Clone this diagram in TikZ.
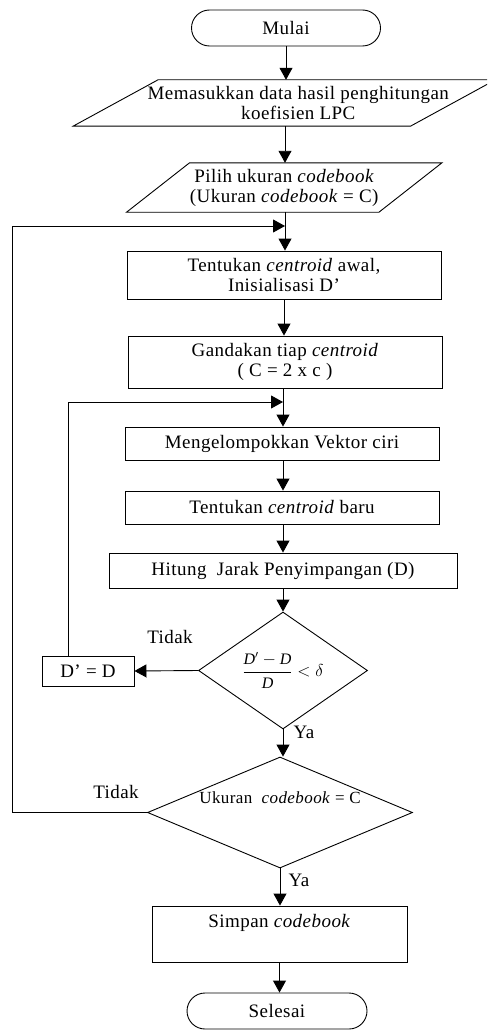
\documentclass[tikz,border=0pt]{standalone}
\usepackage{fontspec}
\setmainfont{Liberation Serif}[LetterSpace=2.4]
\usetikzlibrary{arrows.meta,shapes.geometric}

\begin{document}
\begin{tikzpicture}[x=1pt,y=-1pt,
  every node/.style={font=\fontsize{19}{20}\selectfont, inner sep=2pt, align=center},
  line/.style={line width=0.9pt},
  arr/.style={line, -{Triangle[length=12pt,width=13pt]}},
  term/.style={draw, line, rectangle, rounded corners=18pt, minimum height=36pt},
  procbox/.style={draw, line, rectangle},
  iobox/.style={rectangle, draw=none},
  decision/.style={draw, line, diamond, inner sep=0pt},
  lbl/.style={inner sep=0pt}
]
\useasboundingbox (0,0) rectangle (487,1030);
\clip (0,0) rectangle (487,1030);

% ---- nodes ----
\node[term, minimum width=189pt] (start) at (286,28) {Mulai};

\node[iobox, minimum width=337pt, minimum height=46pt,
      label={[xshift=14pt]center:Memasukkan data hasil penghitungan\\koefisien LPC}]
      (in1) at (284.25,103) {};
\draw[line] ([xshift=42.5pt]in1.north west) -- ([xshift=42.5pt]in1.north east)
  -- ([xshift=-42.5pt]in1.south east) -- ([xshift=-42.5pt]in1.south west) -- cycle;

\node[iobox, minimum width=252pt, minimum height=49pt] (in2) at (284.25,187.5)
  {Pilih ukuran \textit{codebook}\\(Ukuran \textit{codebook} = C)};
\draw[line] ([xshift=31.5pt]in2.north west) -- ([xshift=31.5pt]in2.north east)
  -- ([xshift=-31.5pt]in2.south east) -- ([xshift=-31.5pt]in2.south west) -- cycle;

\node[procbox, minimum width=314pt, minimum height=48pt] (b1) at (284,275)
  {Tentukan \textit{centroid} awal,\\Inisialisasi D’};
\node[procbox, minimum width=314pt, minimum height=52pt] (b2) at (285,362)
  {Gandakan tiap \textit{centroid}\\( C = 2 x c )};
\node[procbox, minimum width=314pt, minimum height=33pt] (b3) at (282,443.5)
  {Mengelompokkan Vektor ciri};
\node[procbox, minimum width=314pt, minimum height=33pt] (b4) at (282,507.5)
  {Tentukan \textit{centroid} baru};
\node[procbox, minimum width=348pt, minimum height=35pt] (b5) at (283,570.5)
  {Hitung~ Jarak Penyimpangan (D)};

\node[decision, minimum width=169pt, minimum height=101pt,
      font=\fontsize{16}{18}\selectfont] (d1) at (283,670.5)
  {${\displaystyle\frac{\mathit{D'}-\mathit{D}}{\mathit{D}}} < \delta$};
\node[procbox, minimum width=92pt, minimum height=30pt] (upd) at (88,671) {D’ = D};

\node[decision, minimum width=265pt, minimum height=111pt,
      label={[yshift=15pt, font=\fontsize{17}{18}\selectfont]center:Ukuran~ \textit{codebook} = C}]
      (d2) at (280,812.5) {};

\node[procbox, minimum width=255pt, minimum height=56pt,
      label={[yshift=11pt]center:Simpan \textit{codebook}}] (b6) at (279.5,934) {};
\node[term, minimum width=180pt] (stop) at (277,1011) {Selesai};

% junctions on the main line
\coordinate (j1) at (285,226);
\coordinate (j2) at (283,402);

% ---- connectors ----
\draw[arr] (start.south) -- (start.south |- in1.north);
\draw[arr] (in1.south -| j1) -- (j1 |- in2.north);
\draw[arr] (in2.south -| j1) -- (j1 |- b1.north);
\draw[arr] (b1.south) -- (b1.south |- b2.north);
\draw[arr] (b2.south -| j2) -- (j2 |- b3.north);
\draw[arr] (b3.south -| j2) -- (j2 |- b4.north);
\draw[arr] (b4.south -| j2) -- (j2 |- b5.north);
\draw[arr] (b5.south -| j2) -- (j2 |- d1.north);
\draw[arr] (d1.west) -- (upd.east);
\draw[arr] ([xshift=-20pt]upd.north) |- (j2);
\draw[arr] (d1.south) -- (d1.south |- d2.north);
\draw[arr] (d2.west) -- ++(-135,0) |- (j1);
\draw[arr] (d2.south) -- (d2.south |- b6.north);
\draw[arr] (b6.south) -- (b6.south |- stop.north);

% ---- branch labels ----
\node[lbl] at (170,637) {Tidak};
\node[lbl] at (304,732) {Ya};
\node[lbl] at (116,792) {Tidak};
\node[lbl] at (299,880) {Ya};
\end{tikzpicture}
\end{document}
